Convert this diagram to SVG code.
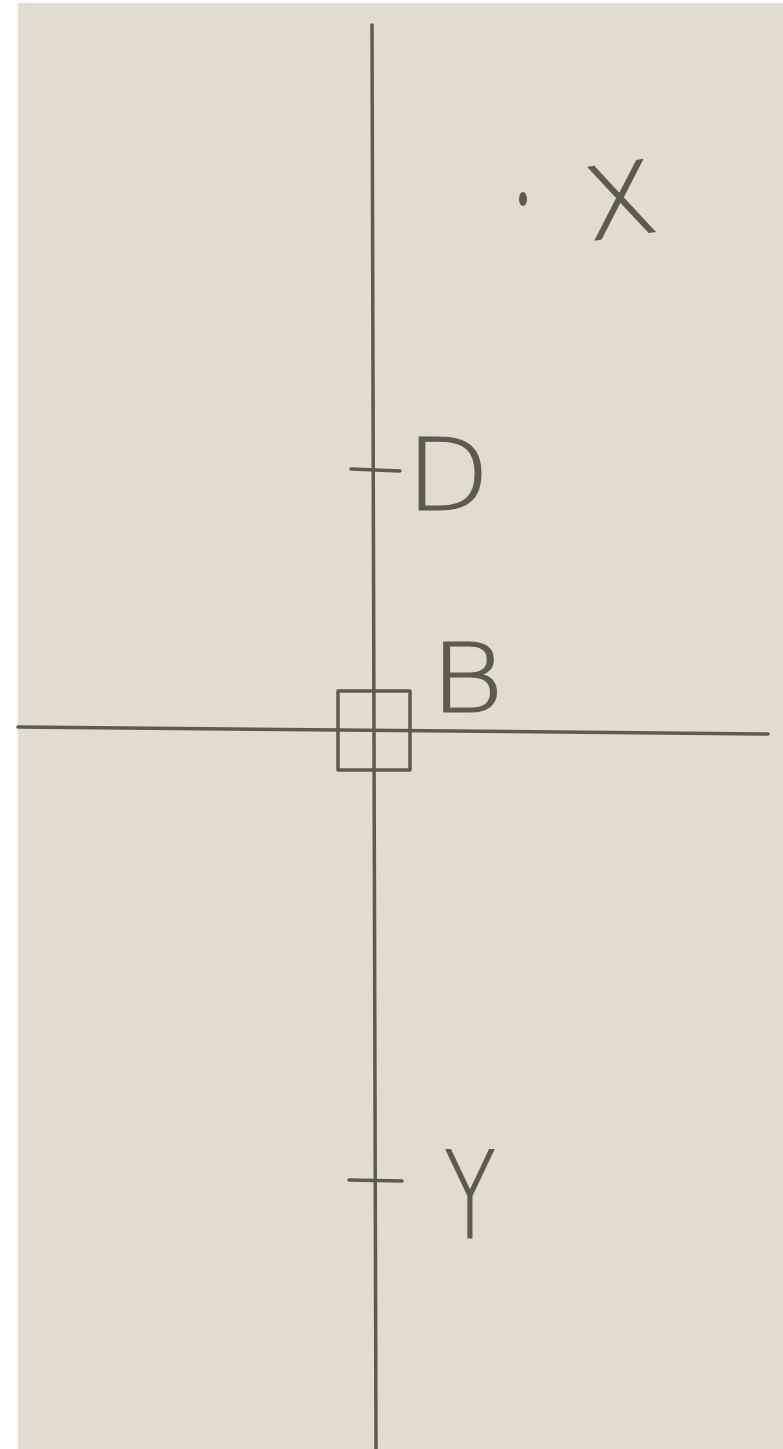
<svg xmlns="http://www.w3.org/2000/svg" width="783" height="1449" viewBox="0 0 783 1449">
<style>
.ln{stroke:#5e5a52;stroke-width:3.5;fill:none;stroke-linecap:round;stroke-linejoin:round}
.lb{font-family:"DejaVu Sans","Liberation Sans",sans-serif;fill:#5e5a52;stroke:#5e5a52;stroke-width:1.2;font-weight:200}
</style>
<rect x="0" y="0" width="783" height="1449" fill="#ffffff"/>
<rect x="18" y="3" width="765" height="1446" fill="#e1dccf"/>
<g id="axes">
<line class="ln" x1="372" y1="25" x2="376" y2="1449"/>
<line class="ln" x1="18" y1="727" x2="768" y2="734"/>
</g>
<g id="point-X">
<ellipse cx="523" cy="199" rx="4" ry="7" fill="#5e5a52"/>
<text class="lb" x="584" y="236" font-size="100" textLength="72" lengthAdjust="spacingAndGlyphs" transform="rotate(-8 620 200)">X</text>
</g>
<g id="point-D">
<line class="ln" x1="351" y1="469" x2="400" y2="471"/>
<text class="lb" x="406" y="510" font-size="100" textLength="84" lengthAdjust="spacingAndGlyphs">D</text>
</g>
<g id="point-B">
<rect class="ln" x="338" y="691" width="72" height="79"/>
<text class="lb" x="430" y="712" font-size="96" textLength="74" lengthAdjust="spacingAndGlyphs">B</text>
</g>
<g id="point-Y">
<line class="ln" x1="349" y1="1180" x2="402" y2="1181"/>
<text class="lb" x="444" y="1238" font-size="122" textLength="52" lengthAdjust="spacingAndGlyphs">Y</text>
</g>
</svg>
